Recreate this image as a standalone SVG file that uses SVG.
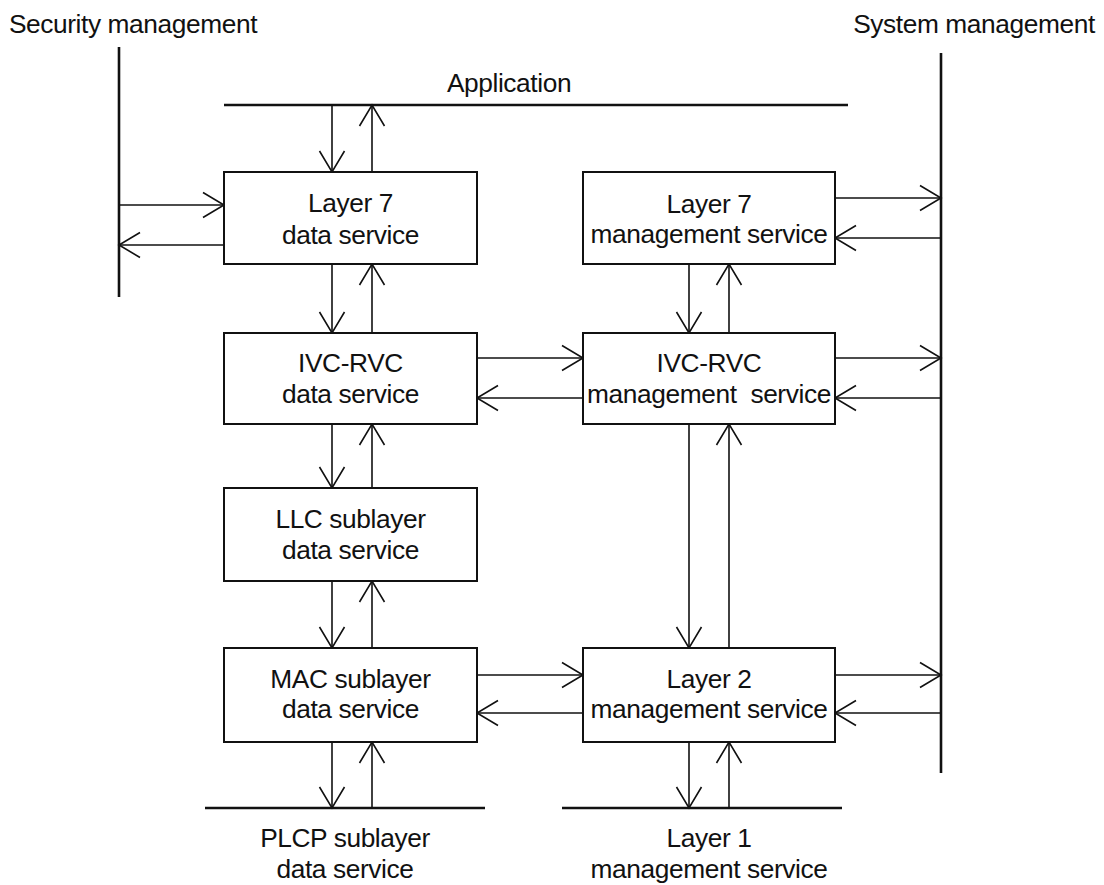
<svg xmlns="http://www.w3.org/2000/svg" width="1104" height="885" viewBox="0 0 1104 885">
<style>
text{font-family:"Liberation Sans",Arial,sans-serif;font-size:26.3px;letter-spacing:-0.4px;fill:#111;text-anchor:middle}
.box{fill:#fff;stroke:#111;stroke-width:2}
.bus{stroke:#111;stroke-width:2.6;fill:none}
.ar{stroke:#111;stroke-width:1.6;fill:none;marker-end:url(#ah)}
</style>
<defs>
<marker id="ah" markerUnits="userSpaceOnUse" viewBox="-23 -14 25 28" markerWidth="25" markerHeight="28" refX="0" refY="0" orient="auto" overflow="visible">
<path d="M-21,-12.5 L0,0 L-21,12.5" fill="none" stroke="#111" stroke-width="1.6"/>
</marker>
</defs>
<rect width="1104" height="885" fill="#fff"/>
<g id="buses">
<line class="bus" x1="119" y1="47" x2="119" y2="297"/>
<line class="bus" x1="941" y1="53" x2="941" y2="773"/>
<line class="bus" x1="224" y1="105" x2="848" y2="105"/>
<line class="bus" x1="205" y1="808" x2="485" y2="808"/>
<line class="bus" x1="562" y1="808" x2="842" y2="808"/>
<text x="133" y="33">Security management</text>
<text x="974" y="33">System management</text>
<text x="509" y="92">Application</text>
<text x="345" y="847">PLCP sublayer</text>
<text x="345" y="878">data service</text>
<text x="709" y="847">Layer 1</text>
<text x="709" y="878">management service</text>
</g>
<g id="connectors">
<line class="ar" x1="332" y1="105" x2="332" y2="172"/>
<line class="ar" x1="372" y1="172" x2="372" y2="105"/>
<line class="ar" x1="119" y1="205" x2="224" y2="205"/>
<line class="ar" x1="224" y1="245" x2="119" y2="245"/>
<line class="ar" x1="332" y1="264" x2="332" y2="333"/>
<line class="ar" x1="372" y1="333" x2="372" y2="264"/>
<line class="ar" x1="332" y1="424" x2="332" y2="488"/>
<line class="ar" x1="372" y1="488" x2="372" y2="424"/>
<line class="ar" x1="332" y1="581" x2="332" y2="648"/>
<line class="ar" x1="372" y1="648" x2="372" y2="581"/>
<line class="ar" x1="332" y1="742" x2="332" y2="808"/>
<line class="ar" x1="372" y1="808" x2="372" y2="742"/>
<line class="ar" x1="689" y1="264" x2="689" y2="333"/>
<line class="ar" x1="729" y1="333" x2="729" y2="264"/>
<line class="ar" x1="689" y1="424" x2="689" y2="648"/>
<line class="ar" x1="729" y1="648" x2="729" y2="424"/>
<line class="ar" x1="689" y1="742" x2="689" y2="808"/>
<line class="ar" x1="729" y1="808" x2="729" y2="742"/>
<line class="ar" x1="477" y1="358" x2="583" y2="358"/>
<line class="ar" x1="583" y1="398" x2="477" y2="398"/>
<line class="ar" x1="477" y1="675" x2="583" y2="675"/>
<line class="ar" x1="583" y1="713" x2="477" y2="713"/>
<line class="ar" x1="835" y1="198" x2="941" y2="198"/>
<line class="ar" x1="941" y1="238" x2="835" y2="238"/>
<line class="ar" x1="835" y1="358" x2="941" y2="358"/>
<line class="ar" x1="941" y1="398" x2="835" y2="398"/>
<line class="ar" x1="835" y1="675" x2="941" y2="675"/>
<line class="ar" x1="941" y1="713" x2="835" y2="713"/>
</g>
<g id="l7data"><rect class="box" x="224" y="172" width="253" height="92"/><text x="350.5" y="212">Layer 7</text><text x="350.5" y="244">data service</text></g>
<g id="ivcdata"><rect class="box" x="224" y="333" width="253" height="91"/><text x="350.5" y="372">IVC-RVC</text><text x="350.5" y="403">data service</text></g>
<g id="llcdata"><rect class="box" x="224" y="488" width="253" height="93"/><text x="350.5" y="528">LLC sublayer</text><text x="350.5" y="559">data service</text></g>
<g id="macdata"><rect class="box" x="224" y="648" width="253" height="94"/><text x="350.5" y="688">MAC sublayer</text><text x="350.5" y="718">data service</text></g>
<g id="l7mgmt"><rect class="box" x="583" y="172" width="252" height="92"/><text x="709" y="213">Layer 7</text><text x="709" y="243">management service</text></g>
<g id="ivcmgmt"><rect class="box" x="583" y="333" width="252" height="91"/><text x="709" y="372" xml:space="preserve">IVC-RVC</text><text x="709" y="403" xml:space="preserve">management  service</text></g>
<g id="l2mgmt"><rect class="box" x="583" y="648" width="252" height="94"/><text x="709" y="688">Layer 2</text><text x="709" y="718">management service</text></g>
</svg>
